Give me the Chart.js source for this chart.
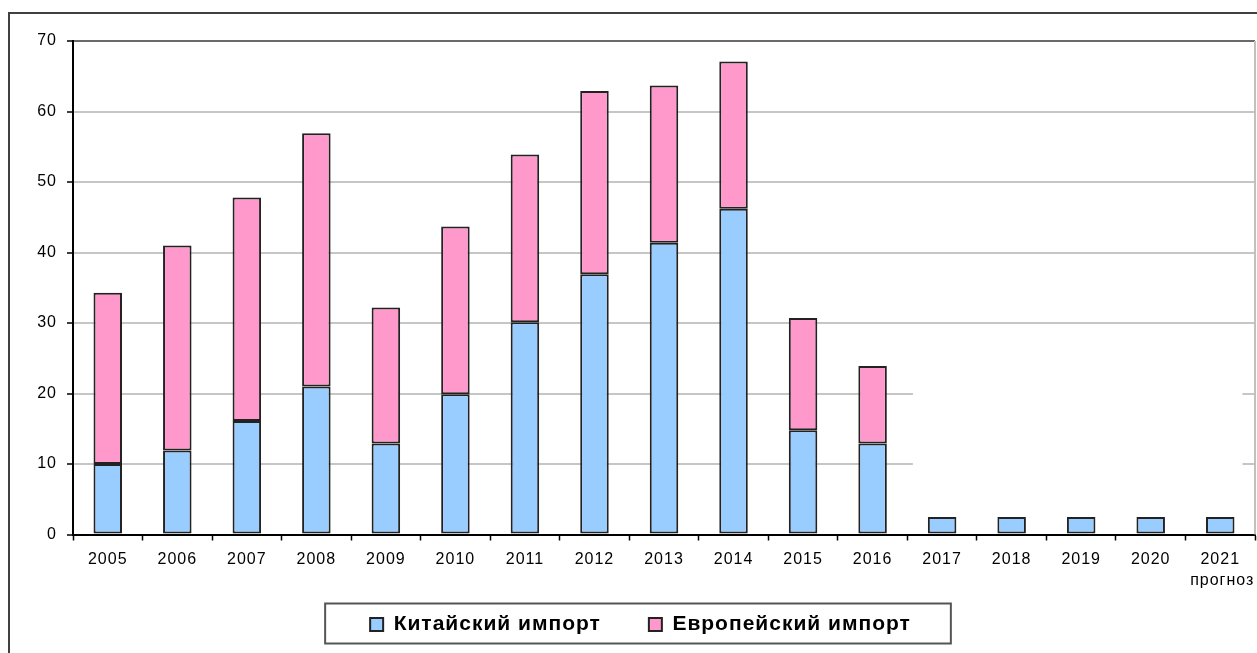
<!DOCTYPE html>
<html>
<head>
<meta charset="utf-8">
<script src="https://cdn.jsdelivr.net/npm/chart.js@4/dist/chart.umd.min.js"></script>
<style>
    body { margin: 0; overflow: hidden; background: #fff; }
    #ramka { position: absolute; left: 8px; top: 12px; width: 1300px; height: 700px; border: 2px solid #404040; }
    #grafik { position: absolute; left: 0; top: 0; }
</style>
</head>
<body>
<div id="ramka"></div>
<canvas id="grafik" width="1257" height="653"></canvas>
<script>
const gody = ['2005', '2006', '2007', '2008', '2009', '2010', '2011', '2012', '2013', '2014', '2015', '2016', '2017', '2018', '2019', '2020', '2021']
const kitayskiy = [10, 11.9, 16.1, 21, 12.9, 19.9, 30.1, 36.9, 41.4, 46.2, 14.8, 12.9, 2.5, 2.5, 2.5, 2.5, 2.5]
const evropeyskiy = [24.3, 29.1, 31.7, 35.9, 19.3, 23.8, 23.8, 26, 22.3, 20.9, 15.9, 11, 0, 0, 0, 0, 0]
const podpisPrognoz = 'прогноз'

const shrift = 'Liberation Sans, Arial, sans-serif'

// wider text like in the original picture
function razryadka(chart) {
    chart.ctx.letterSpacing = '1px'
}

const oformlenie = {
    id: 'oformlenie',
    beforeUpdate: razryadka,
    beforeLayout: razryadka,
    beforeDraw: razryadka,
    beforeDatasetsDraw(chart) {
        const { ctx, chartArea } = chart
        const x = chart.scales.x
        const y = chart.scales.y
        // white patch over grid lines on the right
        ctx.save()
        ctx.fillStyle = '#fff'
        const x1 = x.getPixelForValue(11.58)
        const x2 = x.getPixelForValue(16.32)
        ctx.fillRect(x1, y.getPixelForValue(27), x2 - x1, y.getPixelForValue(1) - y.getPixelForValue(27))
        // right edge of plot area
        ctx.strokeStyle = '#c0c0c0'
        ctx.lineWidth = 2
        ctx.beginPath()
        ctx.moveTo(chartArea.right, chartArea.top)
        ctx.lineTo(chartArea.right, chartArea.bottom)
        ctx.stroke()
        ctx.restore()
    },
    afterDraw(chart) {
        const { ctx } = chart
        const x = chart.scales.x
        ctx.save()
        ctx.letterSpacing = '1px'
        ctx.font = '16px ' + shrift
        ctx.fillStyle = '#000'
        ctx.textAlign = 'center'
        ctx.textBaseline = 'middle'
        ctx.fillText(podpisPrognoz, x.getPixelForValue(gody.length - 1) + 2, x.bottom + 15)
        // frame around legend
        const boxes = chart.legend.legendHitBoxes
        if (boxes && boxes.length) {
            const first = boxes[0]
            const last = boxes[boxes.length - 1]
            const centr = first.top + first.height / 2
            const left = first.left - 45
            const right = last.left + last.width + 40
            ctx.strokeStyle = '#555'
            ctx.lineWidth = 2
            ctx.strokeRect(left, centr - 21, right - left, 40)
        }
        ctx.restore()
    }
}

const grafik = new Chart(document.getElementById('grafik'), {
    type: 'bar',
    data: {
        labels: gody,
        datasets: [{
            label: 'Китайский импорт',
            data: kitayskiy,
            backgroundColor: '#99ccff',
            borderColor: '#222',
            borderWidth: 2,
            borderSkipped: false
        }, {
            label: 'Европейский импорт',
            data: evropeyskiy,
            backgroundColor: '#ff99cc',
            borderColor: '#222',
            borderWidth: 2,
            borderSkipped: false
        }]
    },
    options: {
        responsive: false,
        animation: false,
        datasets: {
            bar: { categoryPercentage: 1, barPercentage: 0.41 }
        },
        layout: {
            padding: { left: 26, right: 2, top: 41, bottom: 8 }
        },
        scales: {
            x: {
                stacked: true,
                afterFit(scale) { scale.height = 31.5 },
                grid: { offset: true, drawOnChartArea: false, tickLength: 6, tickColor: '#000', tickWidth: 1.5 },
                border: { color: '#000', width: 2 },
                ticks: { color: '#000', font: { family: shrift, size: 16 }, padding: 9, maxRotation: 0 }
            },
            y: {
                stacked: true,
                min: 0,
                max: 70,
                afterFit(scale) { scale.width = 47 },
                grid: {
                    color: (c) => c.tick && c.tick.value === 70 ? '#6a6a6a' : '#c6c6c6',
                    lineWidth: 2,
                    tickLength: 6,
                    tickColor: '#000',
                    tickWidth: 1.5
                },
                border: { color: '#000', width: 2 },
                ticks: { stepSize: 10, color: '#000', font: { family: shrift, size: 16 }, padding: 10 }
            }
        },
        plugins: {
            tooltip: { enabled: false },
            legend: {
                position: 'bottom',
                labels: {
                    boxWidth: 13,
                    boxHeight: 13,
                    padding: 48,
                    color: '#000',
                    font: { family: shrift, size: 21, weight: 'bold' }
                }
            }
        }
    },
    plugins: [oformlenie]
});
</script>
</body>
</html>
